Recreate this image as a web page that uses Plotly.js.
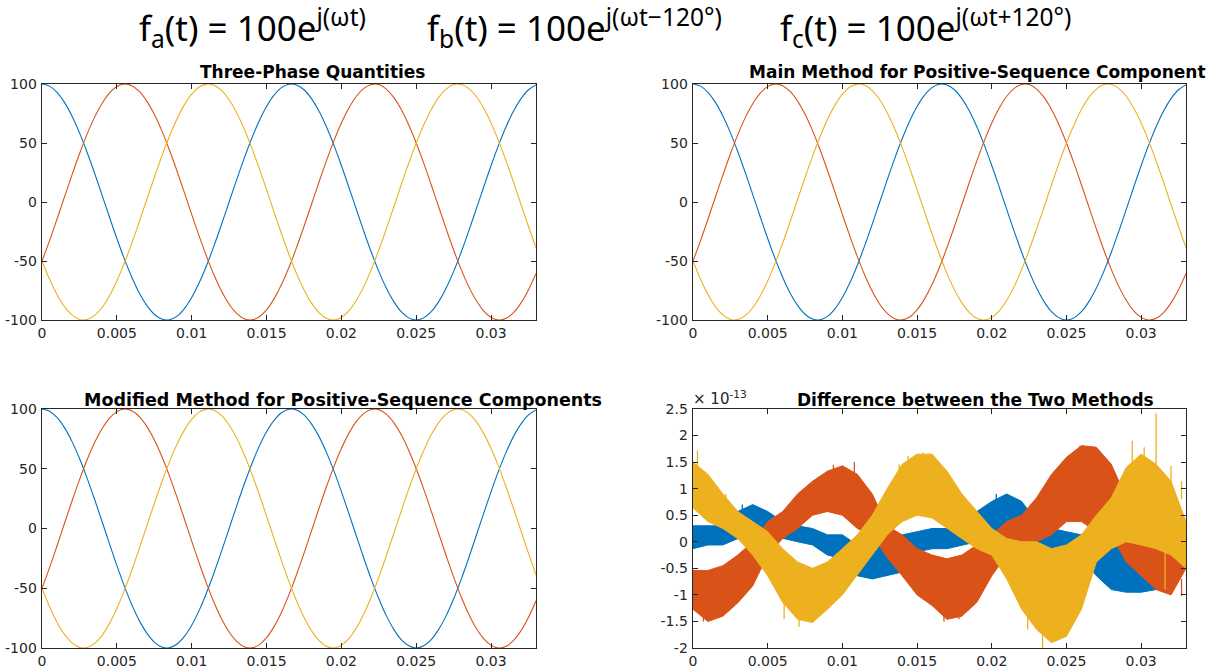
<!DOCTYPE html>
<html>
<head>
<meta charset="utf-8">
<script src="https://cdn.plot.ly/plotly-3.0.1.min.js"></script>
<style>html,body{margin:0;padding:0;background:#fff;}#chart{width:1228px;height:668px;}</style>
</head>
<body>
<div id="chart"></div>
<script>
// ---------- Data ----------
// time samples (s) for the three-phase curves
const tPhase = [0,0.0005,0.001,0.0015,0.002,0.0025,0.003,0.0035,0.004,0.0045,0.005,0.0055,0.006,0.0065,0.007,0.0075,0.008,0.0085,0.009,0.0095,0.01,0.0105,0.011,0.0115,0.012,0.0125,0.013,0.0135,0.014,0.0145,0.015,0.0155,0.016,0.0165,0.017,0.0175,0.018,0.0185,0.019,0.0195,0.02,0.0205,0.021,0.0215,0.022,0.0225,0.023,0.0235,0.024,0.0245,0.025,0.0255,0.026,0.0265,0.027,0.0275,0.028,0.0285,0.029,0.0295,0.03,0.0305,0.031,0.0315,0.032,0.0325,0.033];
// phase a (blue)
const phaseA = [100,98.2,93.0,84.4,72.9,58.8,42.6,24.9,6.3,-12.5,-30.9,-48.2,-63.7,-77.1,-87.6,-95.1,-99.2,-99.8,-96.9,-90.5,-80.9,-68.5,-53.6,-36.8,-18.7,0,18.7,36.8,53.6,68.5,80.9,90.5,96.9,99.8,99.2,95.1,87.6,77.1,63.7,48.2,30.9,12.5,-6.3,-24.9,-42.6,-58.8,-72.9,-84.4,-93.0,-98.2,-100,-98.2,-93.0,-84.4,-72.9,-58.8,-42.6,-24.9,-6.3,12.5,30.9,48.2,63.7,77.1,87.6,95.1,99.2];
// phase b (red)
const phaseB = [-50.0,-32.9,-14.6,4.2,22.8,40.7,57.1,71.5,83.3,92.2,97.8,100.0,98.6,93.7,85.5,74.3,60.5,44.5,26.9,8.4,-10.5,-28.9,-46.3,-62.1,-75.7,-86.6,-94.4,-98.9,-99.9,-97.4,-91.4,-82.1,-70.0,-55.3,-38.7,-20.8,-2.1,16.7,34.9,51.8,66.9,79.6,89.6,96.3,99.6,99.5,95.7,88.6,78.4,65.3,50.0,32.9,14.6,-4.2,-22.8,-40.7,-57.1,-71.5,-83.3,-92.2,-97.8,-100.0,-98.6,-93.7,-85.5,-74.3,-60.5];
// phase c (yellow)
const phaseC = [-50.0,-65.3,-78.4,-88.6,-95.7,-99.5,-99.6,-96.3,-89.6,-79.6,-66.9,-51.8,-34.9,-16.7,2.1,20.8,38.7,55.3,70.0,82.1,91.4,97.4,99.9,98.9,94.4,86.6,75.7,62.1,46.3,28.9,10.5,-8.4,-26.9,-44.5,-60.5,-74.3,-85.5,-93.7,-98.6,-100.0,-97.8,-92.2,-83.3,-71.5,-57.1,-40.7,-22.8,-4.2,14.6,32.9,50.0,65.3,78.4,88.6,95.7,99.5,99.6,96.3,89.6,79.6,66.9,51.8,34.9,16.7,-2.1,-20.8,-38.7];

// Difference between the two methods: envelope of the noisy band, in units of 1e-13
const tDiff = [0,0.001,0.002,0.003,0.004,0.005,0.006,0.007,0.008,0.009,0.01,0.011,0.012,0.013,0.014,0.015,0.016,0.017,0.018,0.019,0.02,0.021,0.022,0.023,0.024,0.025,0.026,0.027,0.028,0.029,0.03,0.031,0.032,0.033];
const diffAUpper = [0.3,0.3,0.3,0.57,0.7,0.57,0.38,0.3,0.25,0.13,0.13,-0.06,0,0,0.13,0.19,0.25,0.25,0.38,0.57,0.76,0.9,0.76,0.38,0.25,0.19,0.13,0.13,0.06,0.9,0.57,0.5,0.38,0.38];
const diffALower = [-0.13,-0.06,-0.06,0.06,0.13,0.13,0.06,0,-0.06,-0.25,-0.32,-0.64,-0.7,-0.64,-0.57,-0.19,-0.13,-0.13,-0.06,0,0.06,0.06,0.06,-0.13,-0.19,-0.25,-0.32,-0.64,-0.9,-0.95,-0.95,-0.9,-0.64,-0.38];
const diffBUpper = [-0.54,-0.54,-0.45,-0.25,0,0.38,0.57,0.9,1.14,1.33,1.43,1.27,0.9,0.3,0.13,-0.13,-0.25,-0.32,-0.25,-0.06,0.13,0.38,0.5,0.83,1.27,1.59,1.81,1.78,1.46,0.83,0.5,0.19,0.38,0.38];
const diffBLower = [-1.27,-1.5,-1.4,-1.15,-0.83,-0.25,0.06,0.25,0.5,0.57,0.5,0.25,0.13,-0.3,-0.64,-1.0,-1.2,-1.46,-1.4,-1.14,-0.64,-0.25,-0.06,0,0.13,0.38,0.38,0.19,0.13,-0.38,-0.64,-0.9,-1.0,-0.5];
const diffCUpper = [1.5,1.27,0.9,0.57,0.38,0.19,-0.13,-0.38,-0.5,-0.38,-0.13,0.13,0.5,1.0,1.46,1.65,1.65,1.33,0.9,0.57,0.25,0.06,0,0,-0.13,-0.06,0.13,0.5,0.83,1.4,1.65,1.46,1.14,0.38];
const diffCLower = [0.64,0.38,0.25,0.06,-0.25,-0.64,-1.14,-1.46,-1.52,-1.27,-1.0,-0.64,-0.25,0.13,0.38,0.5,0.45,0.25,0.06,-0.13,-0.25,-0.7,-1.27,-1.65,-1.9,-1.78,-1.27,-0.38,-0.13,0,-0.06,-0.13,-0.25,-0.5];
// individual spikes beyond the band (time, start value, tip value), units of 1e-13
const spikeAT    = [0.0033,0.0203,0.021,0.0293];
const spikeABase = [0.5,0.6,0.7,0.4];
const spikeATip  = [0.7,0.9,0.9,0.92];
const spikeBT    = [0.0007,0.0094,0.0108,0.0168,0.0178,0.0259,0.0266,0.0322,0.0327];
const spikeBBase = [-1.3,1.2,1.2,-1.3,-1.3,1.6,1.6,-0.7,-0.7];
const spikeBTip  = [-1.5,1.45,1.5,-1.5,-1.46,1.81,1.78,-0.9,-1.02];
const spikeCT    = [0.0003,0.0009,0.0022,0.0061,0.0071,0.0082,0.0138,0.0144,0.0154,0.0163,0.0224,0.0234,0.0238,0.0245,0.0294,0.0302,0.031,0.0316,0.032,0.0327];
const spikeCBase = [1.3,1.1,0.7,-1.1,-1.3,-1.3,1.1,1.3,1.5,1.3,-1.3,-1.6,-1.6,-1.6,1.2,1.4,1.4,-0.2,1.1,0.8];
const spikeCTip  = [1.72,1.27,0.9,-1.46,-1.6,-1.46,1.46,1.62,1.68,1.4,-1.65,-2.0,-1.84,-1.81,1.9,1.78,2.42,-0.9,1.43,1.14];

// tick labels
const xTickVals = [0,0.005,0.01,0.015,0.02,0.025,0.03];
const xTickText = ["0","0.005","0.01","0.015","0.02","0.025","0.03"];
const yTickVals = [-100,-50,0,50,100];
const yTickText = ["-100","-50","0","50","100"];
const yDiffTickVals = [-2,-1.5,-1,-0.5,0,0.5,1,1.5,2,2.5];
const yDiffTickText = ["-2","-1.5","-1","-0.5","0","0.5","1","1.5","2","2.5"];

const subplotTitles = ["Three-Phase Quantities","Main Method for Positive-Sequence Component","Modified Method for Positive-Sequence Components","Difference between the Two Methods"];
const formulaTexts = ["f<sub>a</sub>(t) = 100e<sup>j(\u03c9t)</sup>","f<sub>b</sub>(t) = 100e<sup>j(\u03c9t\u2212120\u00b0)</sup>","f<sub>c</sub>(t) = 100e<sup>j(\u03c9t+120\u00b0)</sup>"];

// ---------- Styles ----------
const colors = ["#0072BD","#D95319","#EDB120"];
const W = 1228, H = 668;
const px = v => v / W;
const py = v => (H - v) / H;

const traces = [];
const phases = [phaseA, phaseB, phaseC];
['', '2', '3'].forEach(s => {
  phases.forEach((p, i) => {
    traces.push({x: tPhase, y: p, type: 'scatter', mode: 'lines',
      line: {color: colors[i], width: 1.1, shape: 'spline', smoothing: 1},
      xaxis: 'x' + s, yaxis: 'y' + s, hoverinfo: 'skip', showlegend: false});
  });
});
const env = [[diffAUpper, diffALower],[diffBUpper, diffBLower],[diffCUpper, diffCLower]];
const spikes = [[spikeAT, spikeABase, spikeATip],[spikeBT, spikeBBase, spikeBTip],[spikeCT, spikeCBase, spikeCTip]];
env.forEach((e, i) => {
  const xs = tDiff.concat(tDiff.slice().reverse());
  const ys = e[0].concat(e[1].slice().reverse());
  traces.push({x: xs, y: ys, type: 'scatter', mode: 'lines', fill: 'toself',
    fillcolor: colors[i], line: {color: colors[i], width: 1},
    xaxis: 'x4', yaxis: 'y4', hoverinfo: 'skip', showlegend: false});
  const sx = [], sy = [];
  spikes[i][0].forEach((t, k) => { sx.push(t, t, null); sy.push(spikes[i][1][k], spikes[i][2][k], null); });
  traces.push({x: sx, y: sy, type: 'scatter', mode: 'lines', connectgaps: false,
    line: {color: colors[i], width: 1.3},
    xaxis: 'x4', yaxis: 'y4', hoverinfo: 'skip', showlegend: false});
});

const axCol = '#262626';
const tickFont = {family: 'DejaVu Sans', size: 14, color: axCol};
function xAx(dom, anchor) {
  return {domain: dom, anchor: anchor, range: [0, 0.033], tickvals: xTickVals, ticktext: xTickText,
    ticks: 'inside', ticklen: 5, tickcolor: axCol, tickwidth: 1, showline: true, linecolor: axCol, linewidth: 1.4,
    mirror: 'ticks', showgrid: false, zeroline: false, tickfont: tickFont, fixedrange: true};
}
function yAx(dom, anchor, rng, tv, tt) {
  return {domain: dom, anchor: anchor, range: rng, tickvals: tv, ticktext: tt,
    ticks: 'inside', ticklen: 5, tickcolor: axCol, tickwidth: 1, showline: true, linecolor: axCol, linewidth: 1.4,
    mirror: 'ticks', showgrid: false, zeroline: false, tickfont: tickFont, ticklabelstandoff: 1, fixedrange: true};
}
const xL = [px(42), px(536)], xR = [px(693), px(1186)];
const yT = [py(320), py(84)], yB = [py(648), py(409)];

const titleFont = {family: 'DejaVu Sans', size: 17, color: '#000'};
const annotations = [
  {text: '<b>' + subplotTitles[0] + '</b>', x: px(198), y: py(72), xanchor: 'left'},
  {text: '<b>' + subplotTitles[1] + '</b>', x: px(747), y: py(72), xanchor: 'left'},
  {text: '<b>' + subplotTitles[2] + '</b>', x: px(82), y: py(400), xanchor: 'left', font: Object.assign({}, titleFont, {size: 17.5})},
  {text: '<b>' + subplotTitles[3] + '</b>', x: px(795), y: py(400), xanchor: 'left'}
].map(a => Object.assign({xref: 'paper', yref: 'paper', yanchor: 'middle', showarrow: false, font: titleFont}, a));

const fFont = {family: 'Noto Sans', size: 35, color: '#000'};
[[137],[425],[778]].forEach((p, i) => {
  annotations.push({text: formulaTexts[i], x: px(p[0]), y: py(27), xanchor: 'left', yanchor: 'middle',
    xref: 'paper', yref: 'paper', showarrow: false, font: fFont});
});
annotations.push({text: '\u00d7 10<sup>-13</sup>', x: px(691), y: py(410), xanchor: 'left', yanchor: 'bottom',
  xref: 'paper', yref: 'paper', showarrow: false, font: {family: 'DejaVu Sans', size: 15, color: axCol}});

const layout = {
  width: W, height: H, margin: {l: 0, r: 0, t: 0, b: 0},
  paper_bgcolor: '#fff', plot_bgcolor: '#fff', showlegend: false,
  xaxis: xAx(xL, 'y'), yaxis: yAx(yT, 'x', [-100, 100], yTickVals, yTickText),
  xaxis2: xAx(xR, 'y2'), yaxis2: yAx(yT, 'x2', [-100, 100], yTickVals, yTickText),
  xaxis3: xAx(xL, 'y3'), yaxis3: yAx(yB, 'x3', [-100, 100], yTickVals, yTickText),
  xaxis4: xAx(xR, 'y4'), yaxis4: yAx(yB, 'x4', [-2, 2.5], yDiffTickVals, yDiffTickText),
  annotations: annotations
};
Plotly.newPlot('chart', traces, layout, {displayModeBar: false, staticPlot: true});
</script>
</body>
</html>
